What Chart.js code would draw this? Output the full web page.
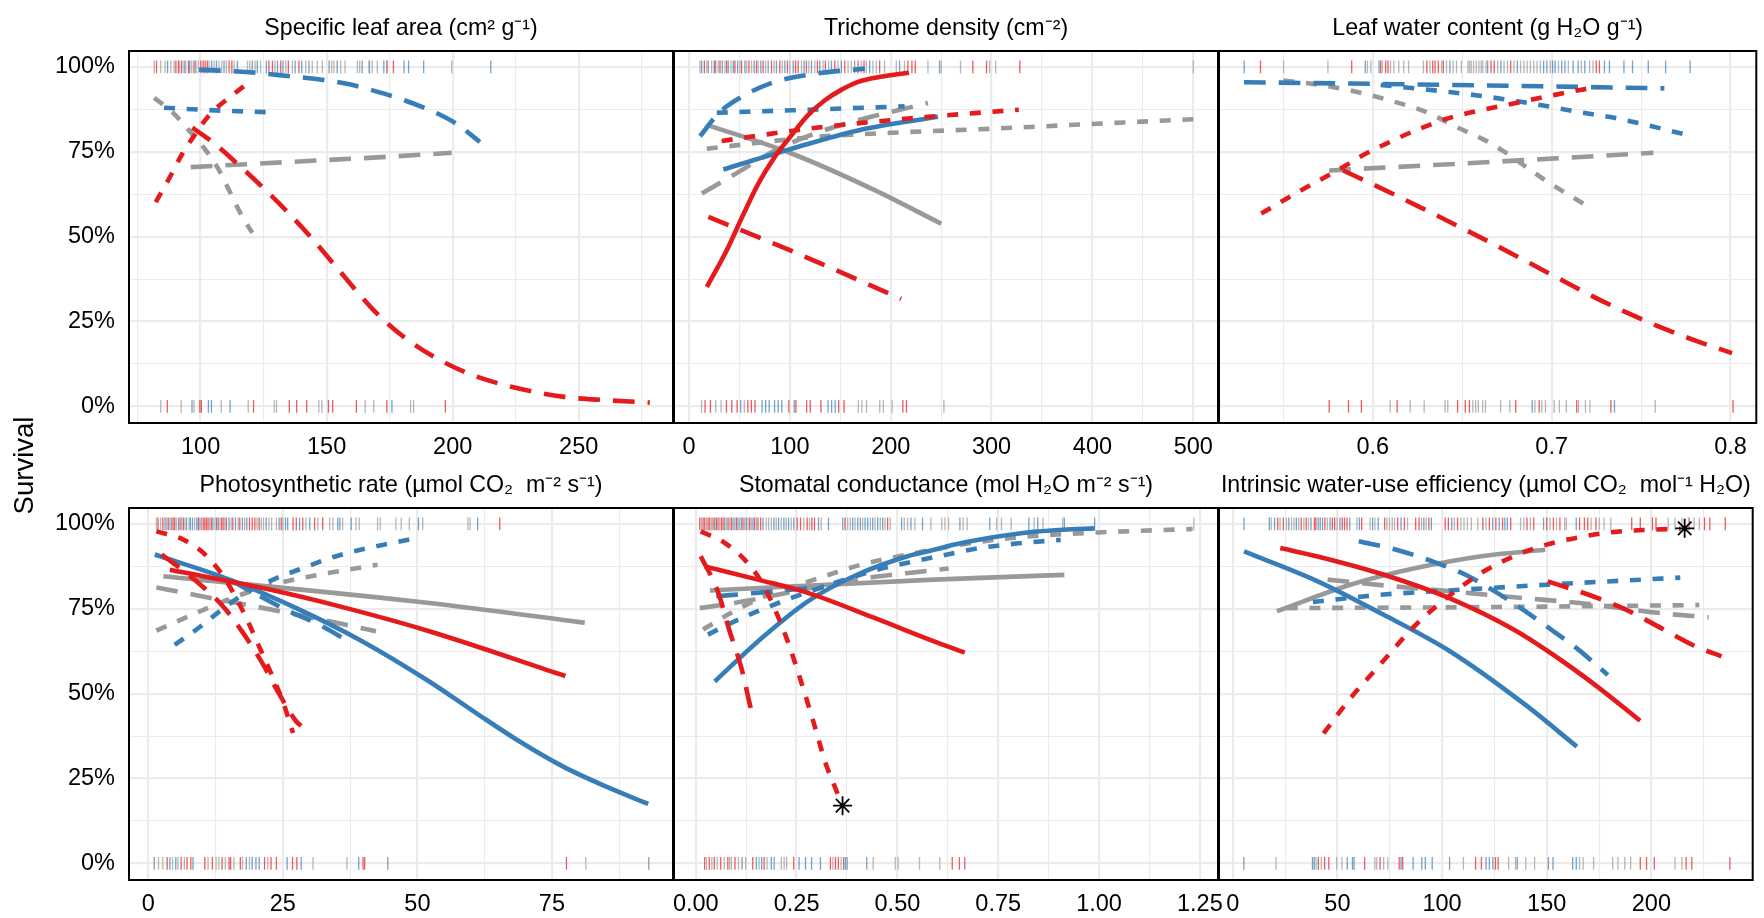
<!DOCTYPE html>
<html>
<head>
<meta charset="utf-8">
<script src="https://cdn.jsdelivr.net/npm/chart.js@4.4.1/dist/chart.umd.min.js"></script>
<style>
  html, body { margin: 0; padding: 0; background: #ffffff; }
  #wrap { position: relative; width: 1764px; height: 918px; overflow: hidden; background: #ffffff; }
  #wrap canvas { position: absolute; left: 0; top: 0; }
</style>
</head>
<body>
<div id="wrap"></div>
<script>
// ---------------- shared survival axis ----------------
const survivalBreaks = [0, 0.25, 0.5, 0.75, 1];
const survivalLabels = ['0%', '25%', '50%', '75%', '100%'];
const survivalMinor = [0.125, 0.375, 0.625, 0.875];
const survivalRange = [-0.049, 1.047];

// ---------------- x axes ----------------
const slaBreaks = [100, 150, 200, 250];
const slaLabels = ['100', '150', '200', '250'];
const slaMinor = [75, 125, 175, 225, 275];
const slaRange = [71.6, 287.4];

const trichBreaks = [0, 100, 200, 300, 400, 500];
const trichLabels = ['0', '100', '200', '300', '400', '500'];
const trichMinor = [50, 150, 250, 350, 450];
const trichRange = [-14.9, 524.5];

const lwcBreaks = [0.6, 0.7, 0.8];
const lwcLabels = ['0.6', '0.7', '0.8'];
const lwcMinor = [0.55, 0.65, 0.75];
const lwcRange = [0.514, 0.8144];

const photoBreaks = [0, 25, 50, 75];
const photoLabels = ['0', '25', '50', '75'];
const photoMinor = [12.5, 37.5, 62.5, 87.5];
const photoRange = [-3.59, 97.5];

const gsBreaks = [0, 0.25, 0.5, 0.75, 1, 1.25];
const gsLabels = ['0.00', '0.25', '0.50', '0.75', '1.00', '1.25'];
const gsMinor = [0.125, 0.375, 0.625, 0.875, 1.125];
const gsRange = [-0.054, 1.295];

const wueBreaks = [0, 50, 100, 150, 200];
const wueLabels = ['0', '50', '100', '150', '200'];
const wueMinor = [25, 75, 125, 175, 225];
const wueRange = [-6.56, 248.4];

// ---------------- fitted survival curves [x, survival] ----------------
// Specific leaf area
const slaRedLong = [[96.7,0.821],[104.7,0.779],[115.3,0.71],[125.8,0.637],[135.1,0.568],[144.3,0.494],[154.9,0.401],[168.7,0.283],[180.7,0.204],[192.8,0.145],[206.5,0.096],[223.7,0.057],[244.3,0.028],[261.5,0.018],[278.2,0.011]];
const slaRedShort = [[82.2,0.602],[87.5,0.671],[92.8,0.745],[98.1,0.804],[103.4,0.858],[110,0.902],[117.2,0.943]];
const slaBlueLong = [[99.4,0.992],[117.9,0.985],[131.1,0.976],[157.5,0.951],[174.7,0.917],[180.7,0.902],[192.8,0.867],[201.4,0.833],[210.8,0.779]];
const slaBlueShort = [[85.5,0.88],[106,0.872],[125.8,0.867]];
const slaGrayLong = [[96.1,0.705],[148.1,0.725],[173.4,0.735],[199.6,0.747]];
const slaGrayShort = [[81.6,0.909],[88.8,0.867],[95.4,0.813],[102.1,0.754],[107.3,0.696],[111.3,0.637],[115.9,0.568],[120.5,0.511]];

// Trichome density
const trichRedSolid = [[17.7,0.352],[37.4,0.46],[53,0.56],[68.7,0.656],[85,0.735],[101.7,0.799],[118,0.858],[134.7,0.902],[150,0.931],[167.6,0.956],[190,0.971],[218,0.983]];
const trichRedLong = [[19.2,0.558],[100,0.46],[210.3,0.317]];
const trichRedShort = [[32.4,0.782],[118.1,0.818],[217.1,0.848],[283,0.864],[326.9,0.874]];
const trichBlueSolid = [[34,0.698],[101.7,0.759],[167.6,0.813],[246.8,0.853]];
const trichBlueLong = [[11,0.796],[29.1,0.863],[52.2,0.912],[85.2,0.956],[124.8,0.98],[174.3,0.995]];
const trichBlueShort = [[27.5,0.865],[118.1,0.874],[213.8,0.884]];
const trichGraySolid = [[19.2,0.828],[101.7,0.745],[184.1,0.637],[250.1,0.538]];
const trichGrayLong = [[12.7,0.627],[52.2,0.696],[85.2,0.754],[124.8,0.804],[167.6,0.843],[204,0.87],[236.9,0.894]];
const trichGrayShort = [[17.6,0.759],[118.1,0.792],[200,0.806],[300.4,0.818],[406.4,0.833],[500,0.846]];

// Leaf water content
const lwcRedLong = [[0.5834,0.695],[0.6068,0.637],[0.6263,0.587],[0.6458,0.536],[0.6653,0.484],[0.6848,0.43],[0.7043,0.376],[0.7238,0.322],[0.7433,0.273],[0.7628,0.229],[0.7823,0.19],[0.8008,0.157]];
const lwcRedShort = [[0.5376,0.568],[0.56,0.637],[0.5834,0.705],[0.5934,0.737],[0.6063,0.771],[0.6247,0.815],[0.643,0.85],[0.6615,0.874],[0.68,0.894],[0.6983,0.914],[0.7167,0.933],[0.726,0.941]];
const lwcBlueLong = [[0.528,0.955],[0.645,0.947],[0.763,0.937]];
const lwcBlueShort = [[0.6044,0.947],[0.643,0.926],[0.68,0.9],[0.7167,0.866],[0.735,0.85],[0.7774,0.798]];
const lwcGrayLong = [[0.5756,0.695],[0.666,0.72],[0.7569,0.747]];
const lwcGrayShort = [[0.55,0.96],[0.5696,0.948],[0.59,0.928],[0.611,0.899],[0.629,0.869],[0.648,0.82],[0.662,0.786],[0.673,0.752],[0.6965,0.666],[0.72,0.59]];

// Photosynthetic rate
const photoRedSolid = [[4,0.865],[21.3,0.811],[36.8,0.752],[52.2,0.684],[77.5,0.552]];
const photoRedLong = [[2.5,0.91],[8.95,0.831],[13.9,0.757],[17.6,0.679],[21,0.595],[24.4,0.497],[27.5,0.418],[28.4,0.405]];
const photoRedShort = [[1.5,0.978],[6.5,0.954],[10.2,0.915],[13.3,0.86],[15.7,0.8],[18.2,0.723],[20.7,0.635],[23.2,0.546],[25,0.477],[26.9,0.384]];
const photoBlueSolid = [[1.2,0.91],[15.1,0.836],[27.5,0.752],[39.8,0.654],[52.2,0.536],[61,0.442],[69,0.359],[77.1,0.285],[85.1,0.226],[92.9,0.175]];
const photoBlueLong = [[15.1,0.836],[19.1,0.801],[25.6,0.747],[32.4,0.698],[37.7,0.649]];
const photoBlueShort = [[4.9,0.644],[8.95,0.689],[13.3,0.743],[17.6,0.792],[23.2,0.836],[28.7,0.87],[34.9,0.905],[42.3,0.934],[48.5,0.954]];
const photoGraySolid = [[2.8,0.846],[52.2,0.767],[81.1,0.709]];
const photoGrayLong = [[1.5,0.813],[8.95,0.79],[18.2,0.762],[27.5,0.733],[36.1,0.705],[42.3,0.684]];
const photoGrayShort = [[1.5,0.686],[8.95,0.738],[16.4,0.787],[24.4,0.826],[33.7,0.856],[42.6,0.88]];

// Stomatal conductance
const gsRedSolid = [[0.022,0.875],[0.154,0.836],[0.278,0.797],[0.443,0.723],[0.591,0.654],[0.667,0.621]];
const gsRedLong = [[0.0124,0.905],[0.055,0.8],[0.084,0.684],[0.113,0.576],[0.136,0.458]];
const gsRedShort = [[0.0124,0.978],[0.072,0.944],[0.121,0.895],[0.162,0.831],[0.195,0.752],[0.228,0.654],[0.261,0.536],[0.294,0.408],[0.323,0.291],[0.345,0.225],[0.36,0.18]];
const gsBlueSolid = [[0.047,0.536],[0.154,0.654],[0.278,0.772],[0.401,0.851],[0.525,0.905],[0.591,0.924],[0.645,0.94],[0.733,0.96],[0.822,0.975],[0.91,0.983],[0.989,0.987]];
const gsBlueLong = [[0.051,0.787],[0.15,0.797],[0.318,0.815]];
const gsBlueShort = [[0.03,0.674],[0.096,0.713],[0.154,0.743],[0.237,0.782],[0.319,0.816],[0.45,0.865],[0.591,0.902],[0.7,0.928],[0.8,0.943],[0.905,0.953]];
const gsGraySolid = [[0.035,0.804],[0.591,0.836],[0.914,0.85]];
const gsGrayLong = [[0.01,0.752],[0.119,0.772],[0.3,0.815],[0.45,0.845],[0.562,0.86],[0.627,0.869]];
const gsGrayShort = [[0.018,0.689],[0.08,0.733],[0.162,0.782],[0.294,0.836],[0.41,0.88],[0.525,0.91],[0.689,0.945],[0.822,0.963],[0.998,0.975],[1.232,0.985]];

// Intrinsic water-use efficiency
const wueRedSolid = [[22.7,0.929],[40,0.905],[71.9,0.851],[103.2,0.782],[134.4,0.688],[157.9,0.594],[176,0.512],[194.6,0.42]];
const wueRedLong = [[150.5,0.831],[172,0.787],[188.1,0.747],[204.7,0.693],[221.3,0.639],[233.5,0.61]];
const wueRedShort = [[43.4,0.383],[55.5,0.481],[70.3,0.585],[87.5,0.703],[103.2,0.787],[118.8,0.856],[134.4,0.905],[150,0.939],[165.7,0.961],[181.3,0.976],[199,0.983],[214,0.986]];
const wueBlueSolid = [[5.4,0.919],[40.6,0.831],[71.9,0.733],[103.2,0.627],[140,0.466],[164.4,0.344]];
const wueBlueLong = [[60.2,0.949],[78.1,0.924],[95.3,0.89],[111,0.851],[125,0.802],[137.6,0.752],[150,0.698],[164.1,0.635],[179.2,0.555]];
const wueBlueShort = [[38.3,0.77],[71.9,0.792],[103.2,0.804],[150,0.821],[213.8,0.842]];
const wueGraySolid = [[21.1,0.743],[56.2,0.821],[87.5,0.87],[118.8,0.905],[149.3,0.924]];
const wueGrayLong = [[45.3,0.836],[71.9,0.819],[103.2,0.802],[134.4,0.784],[165.7,0.767],[204.7,0.737],[227.4,0.725]];
const wueGrayShort = [[25.8,0.752],[120,0.755],[222.9,0.761]];

// significance markers [x, survival]
const gsStar = [[0.364, 0.17]];
const wueStar = [[215.9, 0.987]];

// ---------------- observed plants: survived (top) / died (bottom) ----------------
const slaTopRed = [82.5,90.2,91.2,92.5,95.2,97.4,100.1,101,101.8,102.7,111.3,112.4,127.1,128.5,131.8,134.8,139,173.9,176.5];
const slaTopBlue = [86.9,93.5,95.7,98.1,104.4,106.3,109.3,114.6,120.5,122.5,126.1,130.5,132.7,137.5,140.1,143,151,154.2,164.1,167,172.7,180.7,182.5,188.5,215.1];
const slaTopGray = [81.6,84.2,85.9,88.2,89.5,91.7,94.1,96.5,99.1,103.4,105.4,107.3,108.4,110.2,113.3,118.6,119.5,121.6,123.8,129.5,133.8,136.4,141.7,144.3,146.3,148.3,152,152.9,155.6,157.3,162.2,163.1,166.8,168.1,170.1,174.1,199.6];
const slaBotRed = [86.8,99.7,100.3,121,135.2,138.1,142.1,150.7,152.4,161.8,173.9,197.1];
const slaBotBlue = [96.6,103.1,104.3,111.7,175.9];
const slaBotGray = [84.2,92.3,97.4,108.2,118.9,129.2,130.1,146.9,148.1,165.3,168.7,183.3,184.5];

const trichTopRed = [15.2,25.1,30.7,37.3,45.5,52.1,59.4,66.9,73.5,81.8,90,97.6,105.6,108.2,116.4,127.3,135.2,144.5,154.4,167.6,173.5,189,217,221,224.3,281.4,295,328];
const trichTopBlue = [12.5,19.1,26.4,33,38.9,43.9,48.2,55.4,64.6,71.2,78.5,86.7,95,103.3,114.1,121.4,129.6,141.2,151.1,164.2,179.1,208.8,248.4];
const trichTopGray = [10.9,17.5,22.4,29,35.6,41.6,50.5,57.1,62,68.6,75.9,84.4,92.4,99.9,111.5,118.8,124.7,132.9,138.5,147.8,157.7,160.9,170.8,175.8,182.4,185.7,193.9,205.5,213.7,236.9,250.1,269.2,298,304,500];
const trichBotRed = [15.9,21.2,37.1,42.4,47.7,58.3,61.8,65.4,99,106,116.6,120.2,130.8,148.4,153.7,212,215.6];
const trichBotBlue = [51.2,72.4,76,79.5,84.8,88.4,91.9,104.3,137.8,141.4,144.9];
const trichBotGray = [12.4,26.5,31.8,54.8,167.9,171.4,176,189.1,192.6,201.4,252.7];

const lwcTopRed = [0.5372,0.5882,0.6044,0.6072,0.6085,0.6302,0.6335,0.6348,0.6366,0.6394,0.6661,0.6679,0.6771,0.7249,0.7267];
const lwcTopBlue = [0.5281,0.5958,0.6035,0.6431,0.6642,0.6716,0.6808,0.6955,0.6973,0.7005,0.7019,0.7056,0.7074,0.712,0.7148,0.7185,0.7295,0.7323,0.7404,0.7452,0.754,0.7637,0.7774];
const lwcTopGray = [0.5501,0.5749,0.597,0.5989,0.6053,0.6099,0.6118,0.6145,0.6173,0.62,0.6283,0.632,0.6385,0.6412,0.6449,0.6468,0.6495,0.6532,0.6541,0.655,0.6563,0.6578,0.6593,0.6606,0.6615,0.6633,0.6698,0.6734,0.6753,0.6789,0.6826,0.6845,0.6863,0.6881,0.69,0.6918,0.6937,0.6992,0.7038,0.7093,0.7166,0.7212,0.7231];
const lwcBotRed = [0.5756,0.5864,0.5936,0.6136,0.6474,0.6517,0.654,0.6799,0.693,0.714,0.7331,0.8014];
const lwcBotBlue = [0.6891,0.7351];
const lwcBotGray = [0.6097,0.6209,0.6287,0.6404,0.6419,0.6559,0.6575,0.659,0.6614,0.663,0.6715,0.6766,0.6906,0.6945,0.6965,0.7014,0.7043,0.7082,0.715,0.7189,0.7214,0.7579];

const photoTopRed = [1.8,2.7,3.7,4.6,4.9,5.9,6.5,9.3,10.2,10.5,10.8,11.1,11.7,12.7,13.6,13.9,14.5,15.7,17,18.8,19.3,19.8,20.6,24.7,26.9,27.5,28.7,30.9,32.4,65.3];
const photoTopBlue = [3.1,4.3,5.6,7.1,7.8,8.2,9,9.6,12,13,15,16.2,17.5,18.3,21.9,24.3,25.5,25.9,28.1,30,35.2,35.6,37.7,50.2,61.2];
const photoTopGray = [1.5,2.3,3.4,4,5.2,6.2,6.8,7.6,8.6,9.9,11.4,12.4,13.3,14.2,15.4,16.7,17.9,20.2,21,21.4,22.4,22.9,23.8,25,29.3,31.5,33.7,34.3,36.1,38.6,39.2,42.6,43.1,46,47,48.5,51,59.4,59.8];
const photoBotRed = [3.5,6.1,7.2,7.9,10.5,11.9,13.7,15,15.3,17.1,21.6,22.8,23.8,26.8,27.6,39.9,40.2,77.7];
const photoBotBlue = [1.1,4,5.1,8.3,18.2,19.3,20,20.6,25.8,28.4,39.1,44.5,93];
const photoBotGray = [1.9,2.7,4.5,5.5,6.7,11.1,12.6,13.1,14.3,15.9,17.5,18.8,22.2,30.6,36.9,81.3];

const gsTopRed = [0.0099,0.0181,0.0223,0.0305,0.0346,0.0429,0.0511,0.0552,0.0635,0.0676,0.08,0.0882,0.1006,0.1171,0.1336,0.1459,0.1542,0.1608,0.2515,0.2598,0.2762,0.2878,0.2944,0.3702,0.4758];
const gsTopBlue = [0.047,0.0717,0.0924,0.1047,0.113,0.1253,0.1418,0.1666,0.1937,0.2053,0.2185,0.2301,0.2433,0.3043,0.329,0.3645,0.3892,0.4016,0.4082,0.4197,0.4263,0.4387,0.4511,0.4634,0.5104,0.5335,0.5623,0.655,0.729,0.826,0.848,0.914,0.989];
const gsTopGray = [0.014,0.0264,0.0388,0.0594,0.0759,0.0841,0.0965,0.1088,0.1212,0.1295,0.1377,0.1501,0.1748,0.1806,0.1872,0.1995,0.2119,0.2243,0.2367,0.268,0.282,0.3109,0.3768,0.3834,0.395,0.4139,0.4329,0.4445,0.4576,0.4692,0.4824,0.517,0.5253,0.5434,0.583,0.61,0.618,0.627,0.663,0.673,0.746,0.758,0.782,0.839,0.861,0.91,1.235];
const gsBotRed = [0.0221,0.0336,0.0459,0.0618,0.0795,0.0972,0.1413,0.1696,0.2429,0.3339,0.3463,0.3534,0.3666,0.636,0.6537,0.667];
const gsBotBlue = [0.1148,0.1502,0.1634,0.1873,0.1943,0.2562,0.2721,0.2871,0.3092,0.371,0.3754,0.424];
const gsBotGray = [0.0265,0.0398,0.053,0.0707,0.0839,0.0883,0.106,0.1237,0.1572,0.1767,0.212,0.2191,0.2253,0.3401,0.3604,0.4399,0.4947,0.5018,0.5548,0.6051];

const wueTopRed = [21.5,24.2,32.7,35.1,39,39.7,44,47.6,48.7,52.3,53.4,54.6,61.6,72.6,78.8,82,87.4,89,93.7,101.5,103,107.4,119.5,122.6,125.7,128.9,132.8,140.6,143.8,150,153.2,156.3,165.7,168,169.6,173.5,190.6,194.7,200.5,202.2,218,225.4,227.9,235.3];
const wueTopBlue = [5.4,17.5,20,26.8,30.4,37.4,40.8,41.8,42.9,46.5,51.2,55.9,60.5,66.8,69.5,80.4,91.3,94.9,104.6,124.2,127.3,130,131.2,148.5,164.1];
const wueTopGray = [18.4,22.6,25.7,28.1,29.3,31.5,34,36.2,45.2,49.9,59.3,65.6,67.9,73.7,74.9,76.2,77.3,83.5,90.2,92.4,105.9,109,110.5,112.1,114,117.1,121,137.5,139.1,142.2,151.6,154.7,158.6,159.4,171.2,175.1,177.4,180.6,208,211.3,214.6,220.4,222.9];
const wueBotRed = [40.9,43.9,45.9,63,70.4,79.5,81.2,116,118.8,125.5,126.8,194.7,197.7,201.4,216.6,219.3,237.5];
const wueBotBlue = [5.3,38.1,38.9,54.7,57.2,58,80.4,86.2,90.3,92,95.3,103.6,121,122.6,124.3,135.9,150.8,153,162.4,164.1];
const wueBotGray = [20.7,39.8,42.3,49.7,52.2,67.9,68.8,72.1,74.1,110.2,131.8,135.1,140,144.2,165.7,167.4,172.4,181.5,184,187.3,190.1,211.3,214.6];

// ---------------- styling ----------------
const LINE_COLORS = { red: '#E41A1C', blue: '#377EB8', gray: '#999999' };
const RUG_COLORS = { red: 'rgba(228,26,28,0.7)', blue: 'rgba(55,126,184,0.7)', gray: 'rgba(153,153,153,0.7)' };
const DASHES = { solid: [], long: [21.7, 13], short: [11, 11.7] };
const LAYER = { red: 1, blue: 2, gray: 3 };
const FONT = '"Liberation Sans", Arial, Helvetica, sans-serif';
const TEXT_COLOR = '#000000';
const GRID_COLOR = '#EBEBEB';

const PAGE_W = 1764, PAGE_H = 918;
const COL_LEFT = [129, 674, 1219];
const ROW_TOP = [51, 508];
const PANEL_W = 544, PANEL_H = 372;
const X_AXIS_H = 40, Y_AXIS_W = 129;

// ---------------- panel table ----------------
const panels = [
  { title: 'Specific leaf area (cm² g⁻¹)', range: slaRange, breaks: slaBreaks, labels: slaLabels, minor: slaMinor,
    curves: [['gray','long',slaGrayLong],['gray','short',slaGrayShort],['blue','long',slaBlueLong],['blue','short',slaBlueShort],['red','long',slaRedLong],['red','short',slaRedShort]],
    top: { red: slaTopRed, blue: slaTopBlue, gray: slaTopGray }, bottom: { red: slaBotRed, blue: slaBotBlue, gray: slaBotGray }, stars: [] },
  { title: 'Trichome density (cm⁻²)', range: trichRange, breaks: trichBreaks, labels: trichLabels, minor: trichMinor,
    curves: [['gray','solid',trichGraySolid],['gray','long',trichGrayLong],['gray','short',trichGrayShort],['blue','solid',trichBlueSolid],['blue','long',trichBlueLong],['blue','short',trichBlueShort],['red','solid',trichRedSolid],['red','long',trichRedLong],['red','short',trichRedShort]],
    top: { red: trichTopRed, blue: trichTopBlue, gray: trichTopGray }, bottom: { red: trichBotRed, blue: trichBotBlue, gray: trichBotGray }, stars: [] },
  { title: 'Leaf water content (g H₂O g⁻¹)', range: lwcRange, breaks: lwcBreaks, labels: lwcLabels, minor: lwcMinor,
    curves: [['gray','long',lwcGrayLong],['gray','short',lwcGrayShort],['blue','long',lwcBlueLong],['blue','short',lwcBlueShort],['red','long',lwcRedLong],['red','short',lwcRedShort]],
    top: { red: lwcTopRed, blue: lwcTopBlue, gray: lwcTopGray }, bottom: { red: lwcBotRed, blue: lwcBotBlue, gray: lwcBotGray }, stars: [] },
  { title: 'Photosynthetic rate (µmol CO₂  m⁻² s⁻¹)', range: photoRange, breaks: photoBreaks, labels: photoLabels, minor: photoMinor,
    curves: [['gray','solid',photoGraySolid],['gray','long',photoGrayLong],['gray','short',photoGrayShort],['blue','solid',photoBlueSolid],['blue','long',photoBlueLong],['blue','short',photoBlueShort],['red','solid',photoRedSolid],['red','long',photoRedLong],['red','short',photoRedShort]],
    top: { red: photoTopRed, blue: photoTopBlue, gray: photoTopGray }, bottom: { red: photoBotRed, blue: photoBotBlue, gray: photoBotGray }, stars: [] },
  { title: 'Stomatal conductance (mol H₂O m⁻² s⁻¹)', range: gsRange, breaks: gsBreaks, labels: gsLabels, minor: gsMinor,
    curves: [['gray','solid',gsGraySolid],['gray','long',gsGrayLong],['gray','short',gsGrayShort],['blue','solid',gsBlueSolid],['blue','long',gsBlueLong],['blue','short',gsBlueShort],['red','solid',gsRedSolid],['red','long',gsRedLong],['red','short',gsRedShort]],
    top: { red: gsTopRed, blue: gsTopBlue, gray: gsTopGray }, bottom: { red: gsBotRed, blue: gsBotBlue, gray: gsBotGray }, stars: gsStar },
  { title: 'Intrinsic water-use efficiency (µmol CO₂  mol⁻¹ H₂O)', range: wueRange, breaks: wueBreaks, labels: wueLabels, minor: wueMinor,
    curves: [['gray','solid',wueGraySolid],['gray','long',wueGrayLong],['gray','short',wueGrayShort],['blue','solid',wueBlueSolid],['blue','long',wueBlueLong],['blue','short',wueBlueShort],['red','solid',wueRedSolid],['red','long',wueRedLong],['red','short',wueRedShort]],
    top: { red: wueTopRed, blue: wueTopBlue, gray: wueTopGray }, bottom: { red: wueBotRed, blue: wueBotBlue, gray: wueBotGray }, stars: wueStar }
];

// ---------------- helpers ----------------
const near = (a, b) => Math.abs(a - b) < 1e-9;
const labelFor = (breaks, labels, v) => {
  const i = breaks.findIndex(b => near(b, v));
  return i >= 0 ? labels[i] : '';
};
const isMajor = (breaks, v) => breaks.some(b => near(b, v));

// panel frame, strip title and the shared y-axis title
const panelDecor = {
  id: 'panelDecor',
  afterDraw(chart, args, opts) {
    const { ctx, chartArea: a } = chart;
    ctx.save();
    ctx.strokeStyle = '#000000';
    ctx.lineWidth = 2;
    ctx.strokeRect(a.left, a.top, a.right - a.left, a.bottom - a.top);
    ctx.fillStyle = TEXT_COLOR;
    ctx.font = '23.2px ' + FONT;
    ctx.textAlign = 'center';
    ctx.textBaseline = 'alphabetic';
    ctx.fillText(opts.title, (a.left + a.right) / 2, a.top - 16.5);
    if (opts.yTitle) {
      ctx.translate(25, (ROW_TOP[0] + ROW_TOP[1] + PANEL_H) / 2);
      ctx.rotate(-Math.PI / 2);
      ctx.font = '27.5px ' + FONT;
      ctx.textBaseline = 'middle';
      ctx.fillText(opts.yTitle, 0, 0);
    }
    ctx.restore();
  }
};

const wrap = document.getElementById('wrap');

panels.forEach((p, idx) => {
  const row = Math.floor(idx / 3), col = idx % 3;
  const canvas = document.createElement('canvas');
  canvas.width = PAGE_W; canvas.height = PAGE_H;
  canvas.style.width = PAGE_W + 'px'; canvas.style.height = PAGE_H + 'px';
  wrap.appendChild(canvas);

  const datasets = [];
  p.curves.forEach(([color, dash, pts]) => {
    datasets.push({
      data: pts.map(([x, y]) => ({ x, y })),
      borderColor: LINE_COLORS[color],
      borderWidth: 4.6,
      borderDash: DASHES[dash],
      borderCapStyle: 'butt',
      borderJoinStyle: 'round',
      cubicInterpolationMode: 'monotone',
      pointRadius: 0,
      fill: false,
      order: LAYER[color]
    });
  });
  [['top', 1], ['bottom', 0]].forEach(([side, yv]) => {
    ['gray', 'blue', 'red'].forEach(color => {
      datasets.push({
        data: p[side][color].map(x => ({ x, y: yv })),
        showLine: false,
        pointStyle: 'line',
        pointRotation: 90,
        pointRadius: 6.4,
        pointBorderWidth: 1.3,
        pointBorderColor: RUG_COLORS[color],
        pointBackgroundColor: RUG_COLORS[color],
        order: 10
      });
    });
  });
  if (p.stars.length) {
    datasets.push({
      data: p.stars.map(([x, y]) => ({ x, y })),
      showLine: false,
      pointStyle: 'star',
      pointRadius: 9.5,
      pointBorderWidth: 1.8,
      pointBorderColor: '#000000',
      pointBackgroundColor: '#000000',
      order: 0
    });
  }

  const left = COL_LEFT[col], top = ROW_TOP[row];
  const yW = col === 0 ? Y_AXIS_W : 0;

  new Chart(canvas, {
    type: 'line',
    data: { datasets },
    plugins: [panelDecor],
    options: {
      responsive: false,
      devicePixelRatio: 1,
      animation: false,
      events: [],
      layout: {
        padding: {
          left: left - yW,
          top: top,
          right: PAGE_W - (left + PANEL_W),
          bottom: PAGE_H - (top + PANEL_H + X_AXIS_H)
        }
      },
      plugins: {
        legend: { display: false },
        tooltip: { enabled: false },
        panelDecor: { title: p.title, yTitle: idx === 0 ? 'Survival' : '' }
      },
      scales: {
        x: {
          type: 'linear',
          position: 'bottom',
          min: p.range[0],
          max: p.range[1],
          bounds: 'data',
          afterBuildTicks: s => {
            s.ticks = [...p.breaks, ...p.minor].sort((a, b) => a - b).map(v => ({ value: v }));
          },
          afterFit: s => { s.height = X_AXIS_H; s.paddingLeft = 0; s.paddingRight = 0; },
          ticks: {
            autoSkip: false, maxRotation: 0, minRotation: 0, padding: 10.5,
            color: TEXT_COLOR, font: { family: FONT, size: 23.5 },
            callback: v => labelFor(p.breaks, p.labels, v)
          },
          grid: {
            drawTicks: false,
            color: GRID_COLOR,
            lineWidth: c => (c.tick && isMajor(p.breaks, c.tick.value)) ? 2.2 : 1.1
          },
          border: { display: false }
        },
        y: {
          type: 'linear',
          position: 'left',
          min: survivalRange[0],
          max: survivalRange[1],
          bounds: 'data',
          afterBuildTicks: s => {
            s.ticks = [...survivalBreaks, ...survivalMinor].sort((a, b) => a - b).map(v => ({ value: v }));
          },
          afterFit: s => { s.width = yW; },
          ticks: {
            display: col === 0,
            autoSkip: false, padding: 14,
            color: TEXT_COLOR, font: { family: FONT, size: 23.5 },
            callback: v => labelFor(survivalBreaks, survivalLabels, v)
          },
          grid: {
            drawTicks: false,
            color: GRID_COLOR,
            lineWidth: c => (c.tick && isMajor(survivalBreaks, c.tick.value)) ? 2.2 : 1.1
          },
          border: { display: false }
        }
      }
    }
  });
});
</script>
</body>
</html>
